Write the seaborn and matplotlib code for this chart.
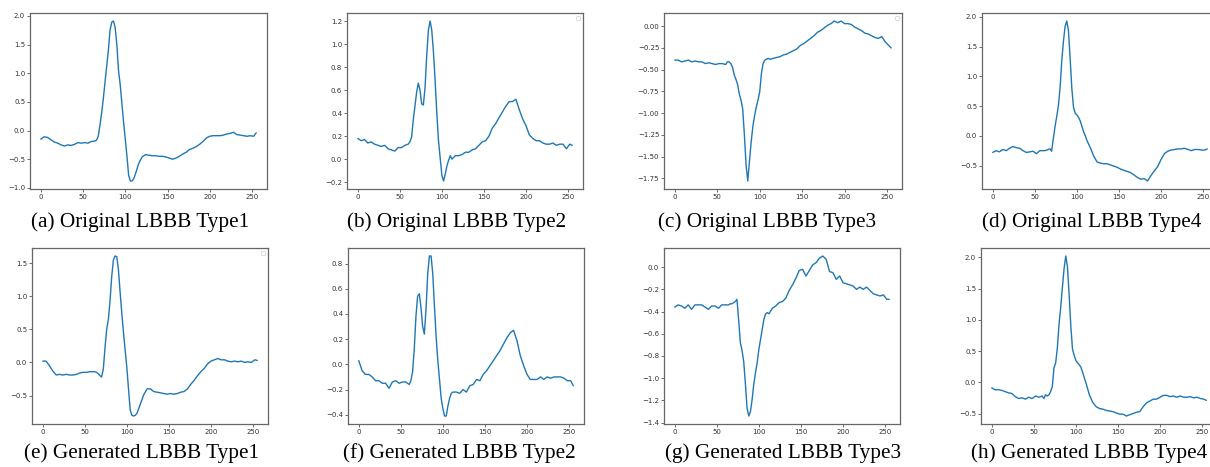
import matplotlib
matplotlib.use("Agg")
import matplotlib.pyplot as plt
import pandas as pd
import seaborn as sns

# ---------------- data ----------------
sample_idx = [0, 4, 8, 12, 16, 20, 24, 28, 32, 36, 40, 44, 48, 52, 56, 60,
              62, 64, 66, 68, 70, 72, 74, 76, 78, 80, 82, 84, 86, 88, 90, 92, 94, 96, 98, 100,
              102, 104, 106, 108, 110, 112,
              116, 120, 124, 128, 132, 136, 140, 144, 148, 152, 156, 160, 164, 168, 172, 176,
              180, 184, 188, 192, 196, 200, 204, 208, 212, 216, 220, 224, 228, 232, 236, 240,
              244, 248, 252, 255]

orig_type1 = [-0.15, -0.11, -0.12, -0.16, -0.20, -0.22, -0.25, -0.27, -0.25, -0.26, -0.24, -0.21, -0.22, -0.21, -0.22, -0.19,
              -0.19, -0.18, -0.17, -0.10, 0.09, 0.30, 0.55, 0.84, 1.12, 1.40, 1.75, 1.89, 1.91, 1.80, 1.50, 1.05, 0.80, 0.47, 0.15, -0.15,
              -0.45, -0.78, -0.88, -0.88, -0.84, -0.76,
              -0.57, -0.46, -0.42, -0.43, -0.44, -0.44, -0.45, -0.45, -0.46, -0.48, -0.50, -0.48, -0.45, -0.41, -0.38, -0.33,
              -0.31, -0.28, -0.24, -0.19, -0.13, -0.10, -0.09, -0.09, -0.09, -0.08, -0.06, -0.05, -0.03, -0.07, -0.08, -0.09,
              -0.10, -0.09, -0.10, -0.04]

orig_type2 = [0.18, 0.16, 0.17, 0.14, 0.15, 0.13, 0.12, 0.11, 0.12, 0.09, 0.08, 0.07, 0.10, 0.10, 0.12, 0.13,
              0.15, 0.19, 0.34, 0.46, 0.58, 0.66, 0.60, 0.48, 0.47, 0.62, 0.90, 1.12, 1.20, 1.12, 0.93, 0.68, 0.40, 0.16, 0.01, -0.14,
              -0.19, -0.13, -0.06, -0.01, 0.03, 0.00,
              0.03, 0.03, 0.04, 0.06, 0.06, 0.08, 0.09, 0.12, 0.15, 0.16, 0.20, 0.27, 0.31, 0.36, 0.41, 0.46,
              0.50, 0.50, 0.52, 0.43, 0.35, 0.29, 0.21, 0.18, 0.16, 0.16, 0.14, 0.13, 0.13, 0.14, 0.12, 0.13,
              0.13, 0.09, 0.13, 0.12]

orig_type3 = [-0.39, -0.39, -0.41, -0.40, -0.39, -0.41, -0.40, -0.41, -0.41, -0.43, -0.42, -0.43, -0.44, -0.43, -0.43, -0.44,
              -0.41, -0.41, -0.43, -0.47, -0.56, -0.61, -0.67, -0.78, -0.85, -0.95, -1.25, -1.60, -1.78, -1.55, -1.33, -1.15, -1.03, -0.93, -0.85, -0.76,
              -0.55, -0.43, -0.39, -0.38, -0.37, -0.38,
              -0.37, -0.36, -0.35, -0.33, -0.32, -0.30, -0.28, -0.26, -0.22, -0.20, -0.17, -0.14, -0.11, -0.07, -0.05, -0.02,
              0.01, 0.03, 0.06, 0.04, 0.06, 0.03, 0.03, 0.02, -0.01, -0.03, -0.05, -0.08, -0.09, -0.11, -0.13, -0.14,
              -0.12, -0.18, -0.22, -0.25]

orig_type4 = [-0.28, -0.25, -0.27, -0.23, -0.25, -0.21, -0.18, -0.20, -0.21, -0.25, -0.28, -0.27, -0.26, -0.30, -0.25, -0.25,
              -0.25, -0.24, -0.23, -0.22, -0.26, -0.05, 0.15, 0.32, 0.50, 0.80, 1.25, 1.58, 1.84, 1.93, 1.77, 1.30, 0.80, 0.48, 0.38, 0.35,
              0.31, 0.25, 0.16, 0.07, 0.00, -0.08,
              -0.20, -0.34, -0.44, -0.46, -0.47, -0.47, -0.49, -0.51, -0.53, -0.56, -0.58, -0.60, -0.62, -0.66, -0.70, -0.73,
              -0.72, -0.76, -0.67, -0.59, -0.52, -0.40, -0.30, -0.26, -0.24, -0.23, -0.22, -0.22, -0.21, -0.23, -0.25, -0.23,
              -0.23, -0.24, -0.24, -0.22]

gen_type1 = [0.02, 0.02, -0.05, -0.13, -0.19, -0.18, -0.19, -0.18, -0.19, -0.19, -0.18, -0.16, -0.15, -0.15, -0.14, -0.14,
             -0.14, -0.15, -0.17, -0.20, -0.22, -0.10, 0.22, 0.50, 0.65, 0.93, 1.30, 1.55, 1.61, 1.60, 1.40, 1.06, 0.74, 0.45, 0.18, -0.08,
             -0.41, -0.72, -0.80, -0.81, -0.80, -0.77,
             -0.63, -0.49, -0.40, -0.40, -0.44, -0.45, -0.46, -0.47, -0.48, -0.47, -0.48, -0.47, -0.45, -0.44, -0.40, -0.33,
             -0.27, -0.20, -0.14, -0.09, -0.02, 0.02, 0.04, 0.06, 0.04, 0.04, 0.02, 0.01, 0.02, 0.01, 0.02, 0.00,
             0.01, 0.00, 0.04, 0.03]

gen_type2 = [0.03, -0.05, -0.08, -0.08, -0.10, -0.13, -0.13, -0.15, -0.15, -0.19, -0.14, -0.13, -0.15, -0.14, -0.14, -0.16,
             -0.13, -0.06, 0.12, 0.38, 0.54, 0.56, 0.45, 0.30, 0.24, 0.44, 0.72, 0.86, 0.86, 0.72, 0.46, 0.22, 0.03, -0.12, -0.27, -0.35,
             -0.41, -0.41, -0.33, -0.27, -0.23, -0.22,
             -0.22, -0.23, -0.20, -0.22, -0.17, -0.16, -0.12, -0.13, -0.08, -0.05, -0.01, 0.03, 0.07, 0.11, 0.16, 0.21,
             0.25, 0.27, 0.19, 0.07, -0.01, -0.08, -0.12, -0.12, -0.12, -0.10, -0.12, -0.10, -0.11, -0.10, -0.10, -0.10,
             -0.11, -0.13, -0.13, -0.17]

gen_type3 = [-0.36, -0.34, -0.35, -0.37, -0.34, -0.38, -0.34, -0.34, -0.34, -0.36, -0.38, -0.35, -0.35, -0.37, -0.34, -0.34,
             -0.34, -0.34, -0.33, -0.33, -0.32, -0.31, -0.29, -0.48, -0.68, -0.75, -0.85, -1.05, -1.27, -1.34, -1.30, -1.19, -1.05, -0.95, -0.86, -0.74,
             -0.65, -0.56, -0.47, -0.42, -0.41, -0.42,
             -0.37, -0.35, -0.32, -0.31, -0.28, -0.21, -0.16, -0.10, -0.03, -0.02, -0.08, -0.03, 0.02, 0.04, 0.08, 0.10,
             0.07, -0.04, -0.05, -0.11, -0.08, -0.14, -0.15, -0.16, -0.17, -0.20, -0.18, -0.20, -0.18, -0.21, -0.24, -0.25,
             -0.26, -0.25, -0.29, -0.29]

gen_type4 = [-0.09, -0.12, -0.12, -0.13, -0.15, -0.17, -0.18, -0.23, -0.26, -0.25, -0.27, -0.24, -0.26, -0.22, -0.24, -0.22,
             -0.26, -0.20, -0.22, -0.20, -0.15, -0.07, 0.23, 0.31, 0.55, 0.93, 1.20, 1.52, 1.82, 2.02, 1.85, 1.40, 0.90, 0.53, 0.43, 0.35,
             0.31, 0.28, 0.24, 0.16, 0.07, -0.01,
             -0.20, -0.32, -0.39, -0.42, -0.43, -0.45, -0.46, -0.47, -0.49, -0.51, -0.51, -0.54, -0.52, -0.50, -0.48, -0.47,
             -0.39, -0.33, -0.30, -0.27, -0.27, -0.24, -0.21, -0.21, -0.23, -0.22, -0.24, -0.22, -0.24, -0.24, -0.23, -0.25,
             -0.24, -0.26, -0.27, -0.29]

captions = ["(a) Original LBBB Type1", "(b) Original LBBB Type2",
            "(c) Original LBBB Type3", "(d) Original LBBB Type4",
            "(e) Generated LBBB Type1", "(f) Generated LBBB Type2",
            "(g) Generated LBBB Type3", "(h) Generated LBBB Type4"]

series = [orig_type1, orig_type2, orig_type3, orig_type4,
          gen_type1, gen_type2, gen_type3, gen_type4]
for s in series:
    assert len(s) == len(sample_idx), len(s)

# ---------------- layout ----------------
sns.set_style("ticks")
plt.rcParams["font.family"] = ["DejaVu Sans"]

fig = plt.figure(figsize=(12.1, 4.67), dpi=100)

W, H = 1210.0, 467.0
# axes pixel boxes: (left, top, right, bottom)
boxes = [(30, 13, 267, 189), (347, 13, 583, 189), (664, 13, 902, 189), (982, 13, 1218, 189),
         (32, 248, 268, 424), (348, 248, 584, 424), (664, 248, 900, 424), (981, 248, 1217, 424)]
cap_x = [140, 457, 767, 1092, 142, 459, 783, 1089]
cap_base = [227, 227, 227, 227, 458, 458, 458, 458]
show_legend = [False, True, True, True, True, False, False, False]

line_color = "#1f77b4"
for i, vals in enumerate(series):
    l, t, r, b = boxes[i]
    ax = fig.add_axes([l / W, (H - b) / H, (r - l) / W, (b - t) / H])
    df = pd.DataFrame({"sample": sample_idx, "value": vals})
    sns.lineplot(data=df, x="sample", y="value", ax=ax, color=line_color,
                 linewidth=1.0)
    ax.set_xlabel("")
    ax.set_ylabel("")
    ax.set_xticks([0, 50, 100, 150, 200, 250])
    ax.tick_params(axis="both", labelsize=5, length=2, width=0.5, pad=1.5,
                   colors="#333333")
    for sp in ax.spines.values():
        sp.set_color("#666666")
        sp.set_linewidth(0.9)
    if show_legend[i]:
        leg = ax.legend(handles=[], loc="upper right", fontsize=4,
                        borderaxespad=0.5, frameon=True)
        leg.get_frame().set_edgecolor("#cccccc")
        leg.get_frame().set_linewidth(0.6)
    fig.text(cap_x[i] / W, (H - cap_base[i]) / H, captions[i], ha="center",
             va="baseline", fontsize=15.3, family=["Liberation Serif"],
             color="black")

fig.savefig("out.png", dpi=100)
